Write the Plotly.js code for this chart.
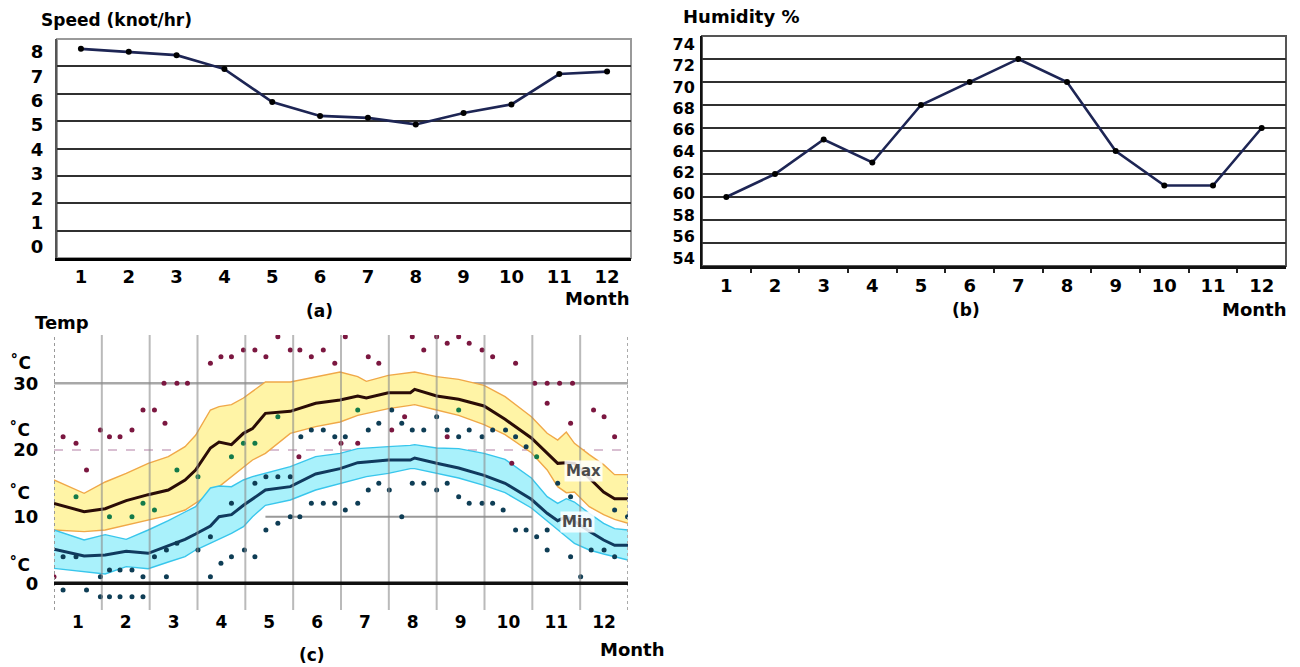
<!DOCTYPE html>
<html>
<head>
<meta charset="utf-8">
<script src="https://cdn.plot.ly/plotly-3.0.1.min.js"></script>
<style>html,body{margin:0;padding:0;background:#fff;}#chart{width:1300px;height:667px;}</style>
</head>
<body>
<div id="chart"></div>
<script>
// ---------- data ----------
const months = [1,2,3,4,5,6,7,8,9,10,11,12];
const monthLabels = ['1','2','3','4','5','6','7','8','9','10','11','12'];

// (a) wind speed (knot/hr)
const windSpeed = [7.64, 7.53, 7.41, 6.90, 5.70, 5.19, 5.12, 4.88, 5.30, 5.61, 6.72, 6.81];
const speedTicks = [0,1,2,3,4,5,6,7,8];
const speedGrid = [1,2,3,4,5,6,7];

// (b) humidity %
const humidity = [60, 62, 65, 63, 68, 70, 72, 70, 64, 61, 61, 66];
const humTicks = [54,56,58,60,62,64,66,68,70,72,74];
const humGrid = [56,58,60,62,64,66,68,70,72];

// (c) temperature (month position along the year)
const tempX   = [0.5,1.13,1.57,2.01,2.47,2.89,3.24,3.46,3.77,3.95,4.21,4.46,4.65,4.92,5.44,5.97,6.48,6.85,7.03,7.49,7.95,8.04,8.5,8.96,9.49,9.93,10.48,10.81,11.03,11.21,11.38,11.69,11.99,12.22,12.5];
const maxMean = [12.0,10.75,11.2,12.4,13.3,14.0,15.5,17.0,20.3,21.2,20.8,22.5,23.2,25.5,25.8,27.0,27.5,28.1,27.8,28.6,28.6,29.1,28.1,27.6,26.6,24.6,21.8,19.5,18.0,18.1,18.0,15.8,13.7,12.7,12.7];
const maxHi   = [15.5,13.5,15.2,16.5,18.0,19.0,20.5,22.2,26.0,26.5,26.8,27.8,28.8,30.2,30.2,31.0,31.7,31.0,30.3,31.2,31.7,31.7,31.0,30.6,29.7,28.0,25.0,22.5,21.5,22.7,21.0,19.3,17.8,16.3,16.3];
const maxLo   = [8.0,7.75,8.0,8.75,9.5,10.2,11.0,12.0,13.5,14.5,16.0,17.5,18.5,19.5,22.5,23.5,24.2,25.2,25.5,26.2,26.7,26.8,26.0,25.2,23.8,22.3,19.6,17.0,14.5,13.6,13.7,11.5,10.3,9.6,9.0];
const minMean = [5.1,4.1,4.25,4.8,4.5,5.6,6.6,7.4,8.6,10.0,10.3,11.7,12.7,14.0,14.5,16.4,17.2,18.1,18.2,18.5,18.5,18.8,18.0,17.3,16.2,15.0,12.6,10.5,9.4,10.0,9.3,7.8,6.5,5.7,5.7];
const minHi   = [8.0,6.5,7.3,6.6,8.0,9.4,10.7,11.5,14.3,14.6,14.5,15.5,16.0,16.5,17.5,19.0,19.5,20.2,20.3,20.5,20.7,20.8,20.3,20.2,19.5,18.6,15.8,13.0,12.0,12.7,12.2,10.5,9.0,8.2,8.0];
const minLo   = [2.25,1.75,1.4,2.5,2.2,3.2,4.0,5.0,6.0,6.6,7.5,8.5,10.0,11.7,12.5,14.0,15.0,15.7,16.0,16.5,17.2,17.2,16.5,15.8,14.7,13.6,11.3,9.3,8.0,7.0,6.0,5.0,4.4,4.0,3.5];

const recHighX = [0.69,0.96,1.18,1.47,1.66,1.88,2.13,2.36,2.6,2.82,2.8,3.07,3.29,3.77,3.99,4.21,4.46,4.7,4.93,5.18,5.44,5.64,5.88,6.13,6.37,6.59,7.07,7.29,7.99,8.23,8.5,8.72,8.96,9.18,9.45,9.67,10.15,10.55,10.81,11.07,11.34,10.81,11.3,11.78,12.0,12.22,0.5,5.62,6.5,6.85,7.56,7.83,8.72,10.07];
const recHighY = [22,21,17,23,22,22,23,26,26,24,30,30,30,33,34,34,35,35,34,37,35,35,34,35,33,37,34,33,37,35,37,36,37,36,35,34,33,30,30,30,30,27,24,26,25,22,1,19,21,21,23,25,22,18];
const recLowX = [0.69,0.96,0.69,1.18,1.47,1.47,1.66,1.88,2.13,1.66,1.88,2.13,2.36,2.36,2.6,2.85,2.85,3.07,3.51,3.77,3.77,3.99,4.21,4.48,4.7,4.93,5.18,4.21,4.7,4.93,5.18,5.44,5.44,5.64,5.88,6.13,6.37,6.59,6.85,7.07,7.29,7.51,7.77,7.99,8.23,8.5,8.72,8.96,9.18,9.45,9.67,9.89,10.15,10.37,10.59,10.81,10.81,11.3,11.51,11.73,12.0,12.22,
                 5.66,5.88,6.13,6.37,6.59,7.07,7.29,7.56,7.77,7.99,8.23,8.5,8.72,8.96,9.18,9.45,9.67,9.94,10.15,10.37,11.03,11.3,12.22,12.49];
const recLowY = [4,4,-1,-1,1,-2,2,2,2,-2,-2,-2,-2,1,4,1,5,6,5,1,7,3,4,5,4,8,9,12,15,16,16,16,10,10,12,12,12,11,12,14,15,14,10,15,15,14,15,13,12,12,12,11,8,8,7,8,5,4,1,5,5,4,
                 22,23,23,22,22,23,24,26,24,23,23,25,23,22,23,22,23,23,22,20.5,15,13,11,10];
const greenX = [0.96,1.66,2.13,2.36,2.6,3.07,3.51,4.21,4.46,4.7,5.18,6.85,8.96,10.59];
const greenY = [13,10,10,12,11,17,16,19,21,21,25,26,26,19];
const tempTicks = [0,10,20,30];

// ---------- styling ----------
const FONT = 'DejaVu Sans, Arial, sans-serif';
const bold = (s) => ({family: FONT, size: s, color: '#000', weight: 'bold'});
const noTick = 'rgba(0,0,0,0)';
const H = 667, W = 1300;
const px = (v) => v / W;
const py = (v) => 1 - v / H;

const traces = [
  // (a)
  {x: months, y: windSpeed, xaxis: 'x', yaxis: 'y', mode: 'lines+markers',
   line: {color: '#1d2554', width: 2.6}, marker: {color: '#000', size: 6}},
  {x: [], y: [], xaxis: 'x', yaxis: 'y4', mode: 'lines'},
  // (b)
  {x: months, y: humidity, xaxis: 'x2', yaxis: 'y2', mode: 'lines+markers',
   line: {color: '#1d2554', width: 2.6}, marker: {color: '#000', size: 6}},
  {x: [], y: [], xaxis: 'x2', yaxis: 'y5', mode: 'lines'},
  // (c) bands
  {x: tempX, y: maxHi, xaxis: 'x3', yaxis: 'y3', mode: 'lines', line: {color: '#f0a848', width: 1.4}},
  {x: tempX, y: maxLo, xaxis: 'x3', yaxis: 'y3', mode: 'lines', fill: 'tonexty', fillcolor: '#fff4a6', line: {color: '#f0a848', width: 1.4}},
  {x: tempX, y: minHi, xaxis: 'x3', yaxis: 'y3', mode: 'lines', line: {color: '#38c6ec', width: 1.4}},
  {x: tempX, y: minLo, xaxis: 'x3', yaxis: 'y3', mode: 'lines', fill: 'tonexty', fillcolor: '#a9f1fb', line: {color: '#38c6ec', width: 1.4}},
  {x: tempX, y: maxMean, xaxis: 'x3', yaxis: 'y3', mode: 'lines', line: {color: '#2a0c06', width: 3}},
  {x: tempX, y: minMean, xaxis: 'x3', yaxis: 'y3', mode: 'lines', line: {color: '#103a5e', width: 3}},
  {x: recHighX, y: recHighY, xaxis: 'x3', yaxis: 'y3', mode: 'markers', marker: {color: '#7b1740', size: 5}},
  {x: recLowX, y: recLowY, xaxis: 'x3', yaxis: 'y3', mode: 'markers', marker: {color: '#0e3d55', size: 5}},
  {x: greenX, y: greenY, xaxis: 'x3', yaxis: 'y3', mode: 'markers', marker: {color: '#137a4a', size: 5}}
];

const shapes = [
  // frames (a), (b)
  {type: 'rect', xref: 'x domain', yref: 'y domain', x0: 0, x1: 1, y0: 0, y1: 1, line: {color: '#9a9a9a', width: 2}, layer: 'below'},
  {type: 'rect', xref: 'x2 domain', yref: 'y2 domain', x0: 0, x1: 1, y0: 0, y1: 1, line: {color: '#555', width: 2}, layer: 'below'},
  // (c) horizontal reference lines
  {type: 'line', xref: 'x3 domain', yref: 'y3', x0: 0, x1: 1, y0: 30, y1: 30, line: {color: '#a8a8a8', width: 2.5}, layer: 'below'},
  {type: 'line', xref: 'x3 domain', yref: 'y3', x0: 0, x1: 1, y0: 20, y1: 20, line: {color: '#d9bfd2', width: 2, dash: 'dash'}, layer: 'below'},
  {type: 'line', xref: 'x3', yref: 'y3', x0: 4.92, x1: 10.5, y0: 10, y1: 10, line: {color: '#999', width: 2}, layer: 'below'},
  // (c) dotted side edges
  {type: 'line', xref: 'x3', yref: 'y3 domain', x0: 0.5, x1: 0.5, y0: 0, y1: 1, line: {color: '#999', width: 2, dash: 'dot'}},
  {type: 'line', xref: 'x3', yref: 'y3 domain', x0: 12.5, x1: 12.5, y0: 0, y1: 1, line: {color: '#aaa', width: 2, dash: 'dot'}}
];
months.slice(0, 11).forEach(m => {
  shapes.push({type: 'line', xref: 'x3', yref: 'y3 domain', x0: m + 0.5, x1: m + 0.5, y0: 0, y1: 1,
               line: {color: 'rgba(140,140,140,0.6)', width: 2}, layer: 'above'});
});
shapes.push({type: 'line', xref: 'x3 domain', yref: 'y3', x0: 0, x1: 1, y0: 0, y1: 0, line: {color: '#111', width: 3.5}, layer: 'above'});

const ann = (text, x, y, size, xanchor) => ({text: text, x: px(x), y: py(y), xref: 'paper', yref: 'paper',
  xanchor: xanchor || 'center', yanchor: 'middle', showarrow: false, font: bold(size)});

const annotations = [
  ann('Speed (knot/hr)', 39, 20, 17, 'left'),
  ann('Humidity %', 681, 17, 18, 'left'),
  ann('Temp', 33, 322, 18, 'left'),
  ann('(a)', 319, 311, 17),
  ann('(b)', 966, 310, 17),
  ann('(c)', 312, 655, 17),
  ann('Month', 597, 298, 18),
  ann('Month', 1254, 309, 18),
  ann('Month', 632, 649, 18),
  ann('˚C', 20, 362, 17),
  ann('˚C', 19, 429, 17),
  ann('˚C', 19, 493, 17),
  ann('˚C', 19, 564, 17),
  {text: 'Max', x: px(583), y: py(482), xref: 'paper', yref: 'paper', showarrow: false,
   font: {family: FONT, size: 15, color: '#4a4a4a', weight: 'bold'}, bgcolor: 'rgba(255,255,255,0.85)', borderpad: 1},
  {text: 'Min', x: px(577), y: py(533), xref: 'paper', yref: 'paper', showarrow: false,
   font: {family: FONT, size: 15, color: '#4a4a4a', weight: 'bold'}, bgcolor: 'rgba(255,255,255,0.85)', borderpad: 1}
];

const layout = {
  width: W, height: H, margin: {l: 0, r: 0, t: 0, b: 0},
  paper_bgcolor: '#fff', plot_bgcolor: '#fff', showlegend: false,
  xaxis: {domain: [px(57), px(631)], anchor: 'y', range: [0.5, 12.5], tickmode: 'array', tickvals: months, ticktext: monthLabels,
          showgrid: false, zeroline: false, showline: true, linecolor: '#000', linewidth: 3,
          ticks: '', tickfont: bold(18)},
  yaxis: {domain: [py(258), py(39)], anchor: 'x', range: [0, 8], tickmode: 'array', tickvals: speedGrid,
          showgrid: true, gridcolor: '#303030', gridwidth: 2, zeroline: false, showticklabels: false,
          showline: true, linecolor: '#555', linewidth: 2, ticks: ''},
  yaxis4: {overlaying: 'y', anchor: 'x', side: 'left', range: [-0.451, 8.533], tickmode: 'array', tickvals: speedTicks,
           showgrid: false, zeroline: false, showline: false, ticks: 'outside', ticklen: 9, tickcolor: noTick, tickfont: bold(18)},
  xaxis2: {domain: [px(702), px(1286)], anchor: 'y2', range: [0.5, 12.5], tickmode: 'array', tickvals: months, ticktext: monthLabels,
           showgrid: false, zeroline: false, showline: true, linecolor: '#111', linewidth: 3,
           ticks: 'outside', ticklen: 1, tickcolor: noTick, tickfont: bold(18),
           minor: {tickmode: 'array', tickvals: months.slice(0, 11).map(m => m + 0.5), ticks: 'outside', ticklen: 4, tickwidth: 2, tickcolor: '#222', showgrid: false}},
  yaxis2: {domain: [py(266), py(36)], anchor: 'x2', range: [54, 74], tickmode: 'array', tickvals: humGrid,
           showgrid: true, gridcolor: '#303030', gridwidth: 2, zeroline: false, showticklabels: false,
           showline: true, linecolor: '#111', linewidth: 2, ticks: ''},
  yaxis5: {overlaying: 'y2', anchor: 'x2', side: 'left', range: [53.25, 74.78], tickmode: 'array', tickvals: humTicks,
           showgrid: false, zeroline: false, showline: false, ticks: 'outside', ticklen: 3, tickcolor: noTick, tickfont: bold(16)},
  xaxis3: {domain: [px(54), px(628)], anchor: 'y3', range: [0.5, 12.5], tickmode: 'array', tickvals: months, ticktext: monthLabels,
           showgrid: false, zeroline: false, showline: false, ticks: '', tickfont: bold(17)},
  yaxis3: {domain: [py(610), py(335)], anchor: 'x3', range: [-4, 37.25], tickmode: 'array', tickvals: tempTicks,
           showgrid: false, zeroline: false, showline: false, ticks: 'outside', ticklen: 11, tickcolor: noTick, tickfont: bold(18)},
  shapes: shapes,
  annotations: annotations
};

Plotly.newPlot('chart', traces, layout, {displayModeBar: false, staticPlot: true});
</script>
</body>
</html>
